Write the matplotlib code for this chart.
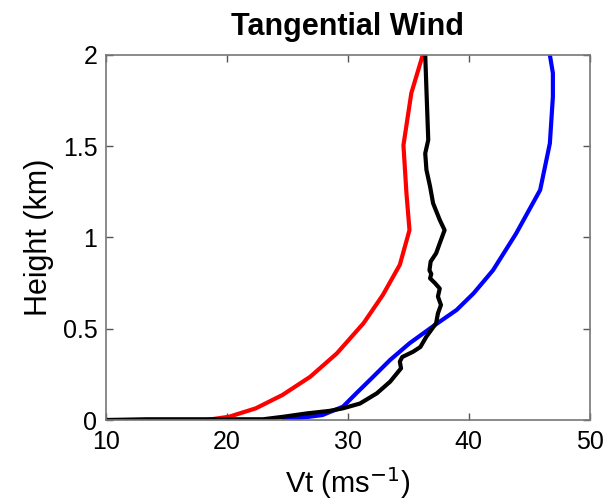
import numpy as np
import matplotlib.pyplot as plt

plt.rcParams['font.family'] = ['Liberation Sans', 'DejaVu Sans']

# red profile
red_vt = [18.3, 20.2, 22.4, 24.6, 26.9, 29.1, 31.3, 32.9, 34.3, 35.1, 34.85, 34.6, 35.25, 36.2]
red_z = [0.0, 0.018, 0.064, 0.137, 0.237, 0.365, 0.53, 0.685, 0.85, 1.04, 1.24, 1.505, 1.79, 2.0]

# blue profile
blue_vt = [24.7, 27.9, 29.6, 30.7, 32.1, 33.5, 35.1, 37.0, 39.0, 40.4, 42.0, 43.9, 45.9, 46.7, 46.95, 46.95, 46.7]
blue_z = [0.0, 0.027, 0.073, 0.146, 0.237, 0.329, 0.42, 0.511, 0.603, 0.694, 0.82, 1.02, 1.26, 1.515, 1.77, 1.9, 2.0]

# black profile (observed)
black_vt = [10.0, 13.4, 23.0, 24.7, 26.6, 28.5, 29.6, 31.0, 32.4, 33.5, 34.4, 34.3, 34.5, 35.4, 36.0,
            36.5, 37.3, 37.45, 37.7, 37.45, 37.6, 37.2, 36.8, 36.9, 36.75, 36.85, 37.3, 37.7, 38.0,
            37.6, 37.05, 36.8, 36.5, 36.4, 36.65, 36.6, 36.5, 36.4]
black_z = [0.0, 0.004, 0.004, 0.018, 0.036, 0.05, 0.064, 0.09, 0.146, 0.21, 0.283, 0.32, 0.345, 0.374, 0.40,
           0.457, 0.53, 0.584, 0.63, 0.676, 0.72, 0.75, 0.776, 0.80, 0.82, 0.868, 0.913, 0.986, 1.04,
           1.096, 1.187, 1.279, 1.37, 1.46, 1.534, 1.626, 1.81, 2.0]

fig = plt.figure(figsize=(6.15, 5.03), dpi=100)
ax = fig.add_axes([0.172, 0.165, 0.787, 0.726])

ax.plot(red_vt, red_z, color='#ff0000', lw=3)
ax.plot(blue_vt, blue_z, color='#0000ff', lw=3)
ax.plot(black_vt, black_z, color='black', lw=3)

ax.set_xlim(10, 50)
ax.set_ylim(0, 2)
ax.set_xticks([10, 20, 30, 40, 50])
ax.set_yticks([0, 0.5, 1, 1.5, 2])
ax.set_yticklabels(['0', '0.5', '1', '1.5', '2'])
ax.tick_params(direction='in', top=True, right=True, length=5, width=1,
               color='#555555', labelsize=18)
ax.tick_params(axis='x', pad=7)
ax.tick_params(axis='y', pad=6)
for s in ax.spines.values():
    s.set_color('#777777')
    s.set_linewidth(1.2)

ax.set_title('Tangential Wind', fontsize=22, fontweight='bold', pad=14)
ax.set_xlabel('Vt (ms$^{-1}$)', fontsize=21, labelpad=8)
ax.set_ylabel('Height (km)', fontsize=22, labelpad=6)

fig.savefig('out.png', dpi=100)
